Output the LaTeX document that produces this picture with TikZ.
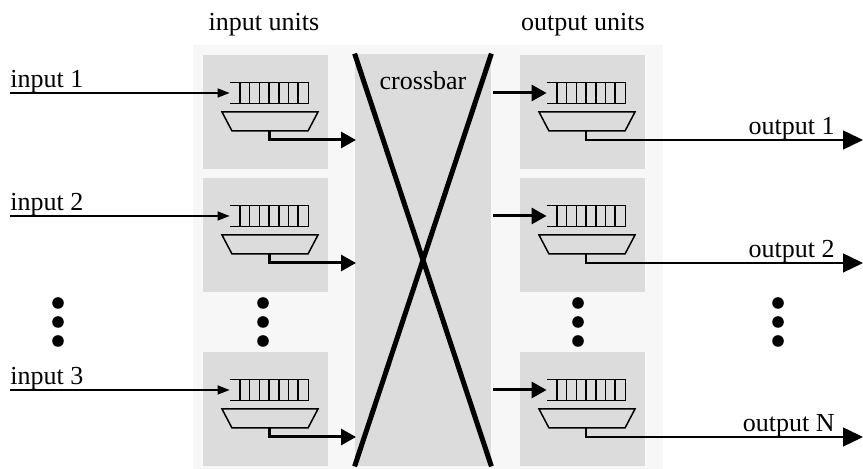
\documentclass[tikz,border=0pt]{standalone}
\usepackage{fontspec}
\setmainfont{Liberation Serif}
\usetikzlibrary{arrows.meta}

\definecolor{panelgray}{HTML}{F7F7F7}
\definecolor{boxgray}{HTML}{DCDCDC}

\tikzset{
  unitbox/.style={fill=boxgray, minimum width=62.5pt, minimum height=57pt, inner sep=0pt},
  queuebox/.style={minimum width=39pt, minimum height=10pt, inner sep=0pt},
  labeltext/.style={font=\fontsize{13}{15}\selectfont, inner sep=0pt},
  partline/.style={line width=0.75pt},
  thinarrow/.style={line width=0.7pt, -{Triangle[length=6pt,width=4.5pt]}},
  thickarrow/.style={line width=1.5pt, -{Triangle[length=7.5pt,width=8pt]}},
  outarrow/.style={line width=0.7pt, -{Triangle[length=10pt,width=9.5pt]}},
}

\begin{document}
\begin{tikzpicture}[x=0.5pt, y=-0.5pt]
    % one unit: box, queue and mux; #1 name, #2 left, #3 top
    \newcommand{\unitblock}[3]{%
      \node[unitbox] (#1) at (#2+62.5,#3+57) {};
      \node[queuebox] (#1q) at (#2+66,#3+38) {};
      \draw[partline] (#1q.north west) -- (#1q.north east) -- (#1q.south east) -- (#1q.south west);
      \foreach \k in {0,...,6}
        \draw[partline] (#2+37+\k*9.7,#3+28) -- (#2+37+\k*9.7,#3+48);
      \draw[partline] (#2+19,#3+57) -- (#2+115,#3+57) -- (#2+105,#3+76) -- (#2+29,#3+76) -- cycle;
      \coordinate (#1m) at (#2+66,#3+76);
    }

    \useasboundingbox (0,0) rectangle (863,469);
    \fill[panelgray] (193,45) rectangle (663,469);

    \node[labeltext] (inunits) at (264,25) {input units};
    \node[labeltext] (outunits) at (583,25) {output units};

    % crossbar
    \node[fill=boxgray, minimum width=68pt, minimum height=206pt, inner sep=0pt] (xbar) at (423,260) {};
    \draw[line width=2.5pt] (xbar.north west) -- (xbar.south east);
    \draw[line width=2.5pt] (xbar.north east) -- (xbar.south west);
    \node[labeltext] (xlabel) at (423,81) {crossbar};

    % input units
    \unitblock{iu1}{203}{55}
    \unitblock{iu2}{203}{178}
    \unitblock{iu3}{203}{352}

    % output units
    \unitblock{ou1}{520}{55}
    \unitblock{ou2}{520}{178}
    \unitblock{ou3}{520}{352}

    % inputs
    \node[labeltext, anchor=south west] (in1) at (10,93) {input 1};
    \node[labeltext, anchor=south west] (in2) at (10,216) {input 2};
    \node[labeltext, anchor=south west] (in3) at (10,390) {input 3};
    \draw[thinarrow] (in1.south west) -- (iu1q.west);
    \draw[thinarrow] (in2.south west) -- (iu2q.west);
    \draw[thinarrow] (in3.south west) -- (iu3q.west);

    % input units to crossbar
    \coordinate (xin1) at (356,140);
    \coordinate (xin2) at (356,263);
    \coordinate (xin3) at (356,437);
    \draw[thickarrow] (iu1m) |- (xin1);
    \draw[thickarrow] (iu2m) |- (xin2);
    \draw[thickarrow] (iu3m) |- (xin3);

    % crossbar to output units
    \coordinate (xout1) at (493,93);
    \coordinate (xout2) at (493,216);
    \coordinate (xout3) at (493,390);
    \draw[thickarrow] (xout1) -- (ou1q.west);
    \draw[thickarrow] (xout2) -- (ou2q.west);
    \draw[thickarrow] (xout3) -- (ou3q.west);

    % outputs
    \node[labeltext, anchor=south east] (out1) at (835,140) {output 1};
    \node[labeltext, anchor=south east] (out2) at (835,263) {output 2};
    \node[labeltext, anchor=south east] (out3) at (835,437) {output N};
    \coordinate (end1) at (863,140);
    \coordinate (end2) at (863,263);
    \coordinate (end3) at (863,437);
    \draw[outarrow] (ou1m) |- (end1);
    \draw[outarrow] (ou2m) |- (end2);
    \draw[outarrow] (ou3m) |- (end3);

    % dots
    \foreach \dx in {58,263,578,778}
      \foreach \dy in {303,322,341}
        \fill (\dx,\dy) circle[radius=2.9pt];

\end{tikzpicture}
\end{document}
